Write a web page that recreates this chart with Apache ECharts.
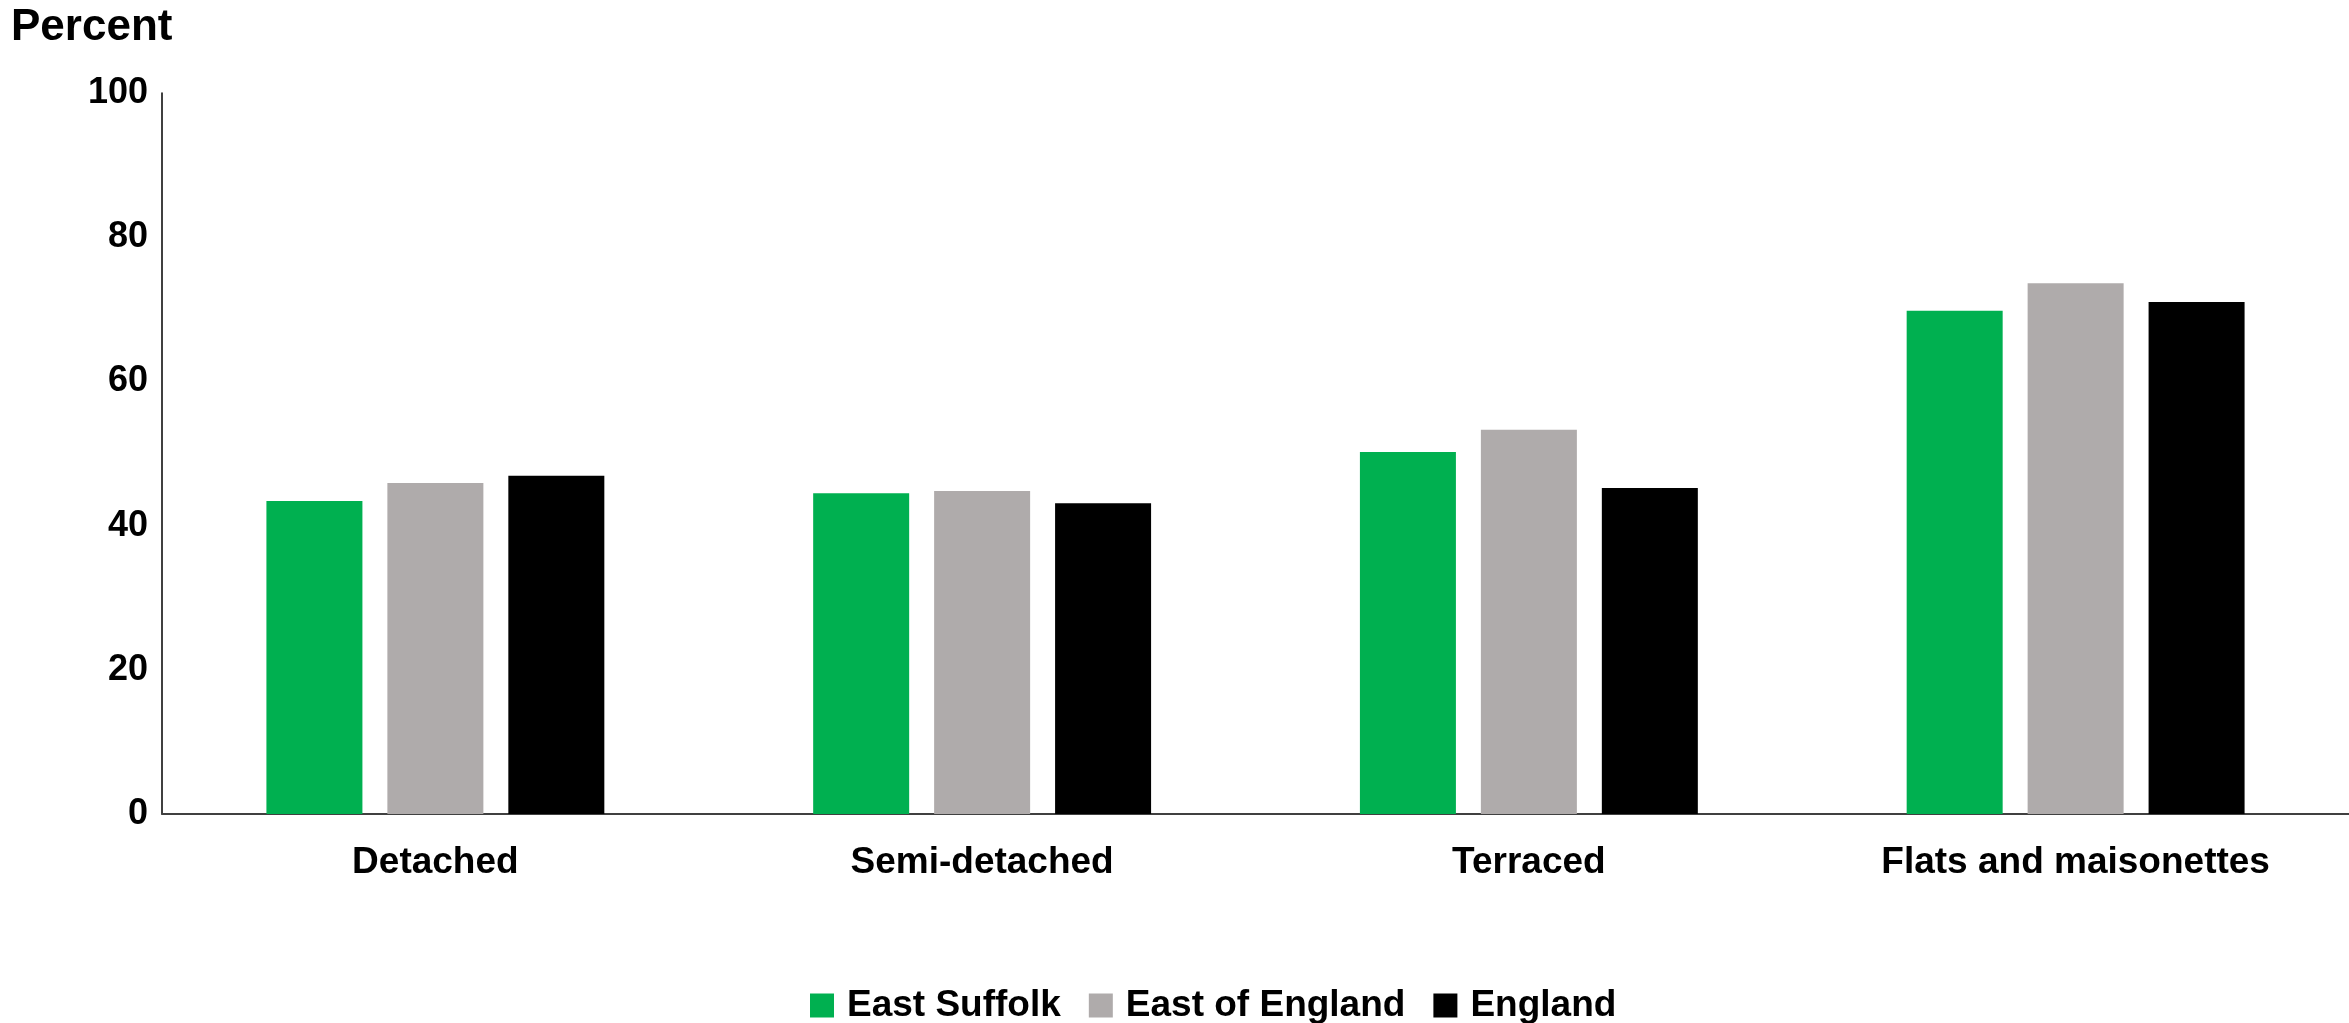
<!DOCTYPE html>
<html>
<head>
<meta charset="utf-8">
<script src="https://cdn.jsdelivr.net/npm/echarts@6/dist/echarts.min.js"></script>
<style>
html,body{margin:0;padding:0;background:#fff;}
#chart{width:2349px;height:1023px;}
</style>
</head>
<body>
<div id="chart"></div>
<script>
const categories = ['Detached', 'Semi-detached', 'Terraced', 'Flats and maisonettes'];
const eastSuffolk = [43.4, 44.5, 50.2, 69.8];
const eastOfEngland = [45.9, 44.8, 53.3, 73.6];
const england = [46.9, 43.1, 45.2, 71.0];
const yTicks = [0, 20, 40, 60, 80, 100];

const FONT = '"Liberation Sans", Arial, Helvetica, sans-serif';
const chart = echarts.init(document.getElementById('chart'));
chart.setOption({
  animation: false,
  backgroundColor: '#ffffff',
  title: {
    text: 'Percent',
    left: 6,
    top: 1,
    textStyle: { fontFamily: FONT, fontWeight: 'bold', fontSize: 44, color: '#000' }
  },
  legend: {
    data: ['East Suffolk', 'East of England', 'England'],
    left: 805,
    top: 982,
    itemWidth: 24,
    itemHeight: 24,
    itemGap: 28,
    icon: 'rect',
    textStyle: { fontFamily: FONT, fontWeight: 'bold', fontSize: 37, color: '#000', padding: [0, 0, 0, 8] }
  },
  grid: { left: 162, right: 0, top: 93, bottom: 209, containLabel: false },
  xAxis: {
    type: 'category',
    data: categories,
    axisLine: { show: true, lineStyle: { color: '#404040', width: 2 } },
    axisTick: { show: false },
    axisLabel: { fontFamily: FONT, fontWeight: 'bold', fontSize: 37, color: '#000', margin: 30 }
  },
  yAxis: {
    type: 'value',
    min: yTicks[0],
    max: yTicks[yTicks.length - 1],
    interval: 20,
    axisLine: { show: true, lineStyle: { color: '#000', width: 1.5 } },
    axisTick: { show: false },
    splitLine: { show: false },
    axisLabel: { fontFamily: FONT, fontWeight: 'bold', fontSize: 36, color: '#000', margin: 14 }
  },
  series: [
    { name: 'East Suffolk', type: 'bar', data: eastSuffolk, barWidth: 96, barGap: '26%', itemStyle: { color: '#00b050' } },
    { name: 'East of England', type: 'bar', data: eastOfEngland, barWidth: 96, barGap: '26%', itemStyle: { color: '#afabab' } },
    { name: 'England', type: 'bar', data: england, barWidth: 96, barGap: '26%', itemStyle: { color: '#000000' } }
  ]
});
</script>
</body>
</html>
